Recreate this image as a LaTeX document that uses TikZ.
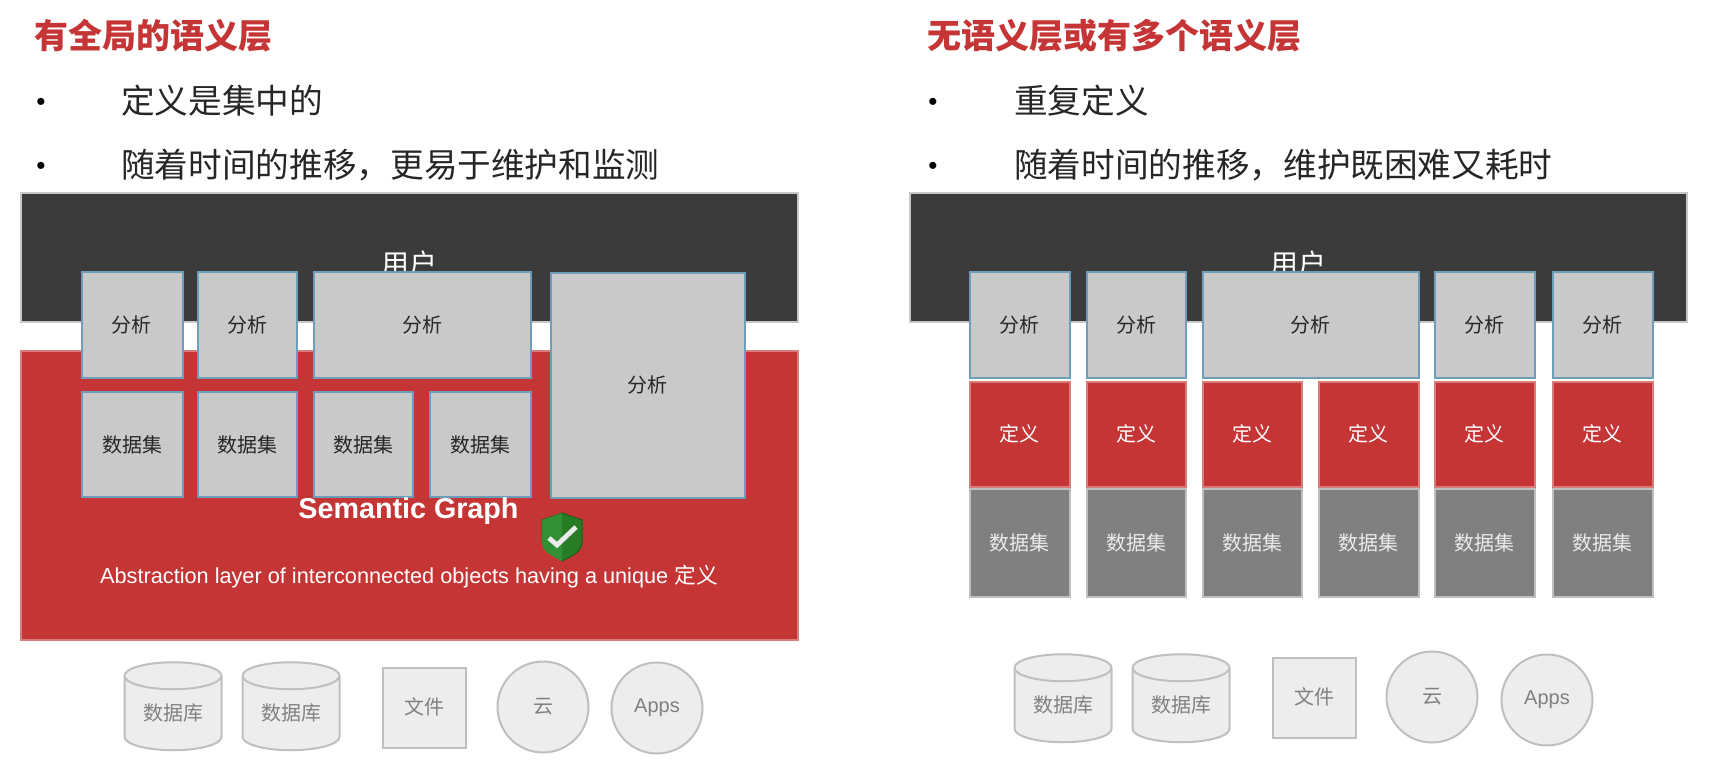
\documentclass[tikz,border=0pt]{standalone}
\usepackage{fontspec}
\setmainfont{Liberation Sans}
\newfontfamily\cjk{Noto Sans CJK SC}
\usetikzlibrary{shapes.geometric}
\definecolor{semred}{HTML}{C63535}
\definecolor{boxblue}{HTML}{6C9EBB}
\newcommand{\fs}[1]{\fontsize{#1}{#1}\selectfont}
\tikzset{
  layer/.style={draw=#1,line width=1pt,rectangle,inner sep=0pt,outer sep=0pt},
  title/.style={anchor=west,text=semred,font=\cjk\bfseries\fs{17}},
  item/.style={anchor=west,text=black!85,font=\cjk\fs{16.83}},
  dot/.style={text=black,font=\fs{13}},
  graybox/.style={layer=boxblue,fill=black!21,text=black!85,font=\cjk\fs{10}},
  defbox/.style={layer=semred!65!white,fill=semred,text=white,font=\cjk\fs{10}},
  databox/.style={layer=black!25,fill=black!50,text=white!92!black,font=\cjk\fs{10}},
  source/.style={draw=black!25,line width=1pt,fill=black!7,text=black!50,font=\cjk\fs{10},inner sep=0pt},
  db/.style={source,cylinder,shape border rotate=90,aspect=0.45,minimum width=48.5pt,minimum height=44pt,
    cylinder uses custom fill,cylinder body fill=black!7,cylinder end fill=black!4},
}
\begin{document}
\begin{tikzpicture}[x=0.5pt,y=-0.5pt]
\useasboundingbox (0,0) rectangle (1726,782);
% left side
\node[title] (titleL) at (27,36) {有全局的语义层};
\node[dot] (dotLa) at (41,104) {•};
\node[item] (itemLa) at (114,101) {定义是集中的};
\node[dot] (dotLb) at (41,168) {•};
\node[item] (itemLb) at (114,165) {随着时间的推移，更易于维护和监测};
\node[layer=black!22,fill=black!77,minimum width=388.5pt,minimum height=64.5pt] (userL) at (409,257.5) {};
\node[text=white,font=\cjk\fs{14}] (userLt) at (409,264) {用户};
\node[layer=semred!65!white,fill=semred,minimum width=388.5pt,minimum height=144.5pt] (graphL) at (409,495) {};
\foreach \n/\x/\w in {1/132/102,2/247/100,3/422/218}
{\node[graybox,minimum width=\w*0.5pt-0.5pt,minimum height=53pt] (anaL\n) at (\x,325) {分析};}
\node[graybox,minimum width=97pt,minimum height=112.5pt] (anaL4) at (647.5,385) {分析};
\foreach \n/\x/\w in {1/132/102,2/247/100,3/363/100,4/480/102}
{\node[graybox,minimum width=\w*0.5pt-0.5pt,minimum height=52.5pt] (setL\n) at (\x,444.5) {数据集};}
\node[text=white,font=\bfseries\fs{14.35}] (semL) at (408.5,511) {Semantic Graph};
\node[text=white,font=\fs{10.85}] (absL) at (409,577) {Abstraction layer of interconnected objects having a unique {\cjk 定义}};
% shield
\draw[green!30!black!90,line width=0.5pt,fill=green!40!black!85] (562,513) -- (582,520) -- (582,542) .. controls (582,552) and (572,556) .. (562,561) -- (542,542) -- (542,520) -- cycle;
\fill[green!45!black!80!white] (562,513) -- (542,520) -- (542,542) .. controls (542,552) and (552,556) .. (562,561) -- cycle;
\draw[white!92!black,line width=2.4pt] (549,538) -- (557,545) -- (576,527);
\foreach \n/\x in {1/173,2/291}
{\node[db] (dbL\n) at (\x,713.5) {\raisebox{1pt}{数据库}};}
\node[source,rectangle,minimum width=41.5pt,minimum height=40pt] (fileL) at (424,707.5) {\raisebox{1pt}{文件}};
\node[source,circle,minimum size=45.5pt] (cloudL) at (543,707) {云};
\node[source,circle,minimum size=45.5pt,font=\fs{10}] (appsL) at (657,708) {Apps};
% right side
\node[title] (titleR) at (920,36) {无语义层或有多个语义层};
\node[dot] (dotRa) at (933,104) {•};
\node[item] (itemRa) at (1007,101) {重复定义};
\node[dot] (dotRb) at (933,168) {•};
\node[item] (itemRb) at (1007,165) {随着时间的推移，维护既困难又耗时};
\node[layer=black!22,fill=black!77,minimum width=388.5pt,minimum height=64.5pt] (userR) at (1298,257.5) {};
\node[text=white,font=\cjk\fs{14}] (userRt) at (1298,264) {用户};
\foreach \n/\x/\w in {1/1019.5/101,2/1136/100,3/1310.5/217,4/1484.5/101,5/1602.5/101}
{\node[graybox,minimum width=\w*0.5pt-0.5pt,minimum height=53pt] (anaR\n) at (\x,325) {分析};}
\foreach \n/\x/\w in {1/1019.5/101,2/1136/100,3/1252/100,4/1368.5/101,5/1484.5/101,6/1602.5/101}
{\node[defbox,minimum width=\w*0.5pt-0.5pt,minimum height=52.5pt] (defR\n) at (\x,434) {定义};
\node[databox,minimum width=\w*0.5pt-0.5pt,minimum height=54pt] (setR\n) at (\x,542.5) {数据集};
}
\foreach \n/\x in {1/1063,2/1181}
{\node[db] (dbR\n) at (\x,705.5) {\raisebox{1.5pt}{数据库}};}
\node[source,rectangle,minimum width=41.5pt,minimum height=40pt] (fileR) at (1314,697.5) {\raisebox{1pt}{文件}};
\node[source,circle,minimum size=45.5pt] (cloudR) at (1432,697) {云};
\node[source,circle,minimum size=45.5pt,font=\fs{10}] (appsR) at (1547,700) {Apps};
\end{tikzpicture}
\end{document}
